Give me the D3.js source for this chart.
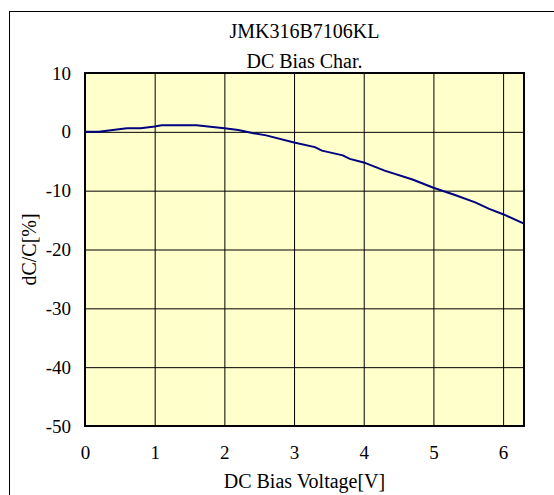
<!DOCTYPE html>
<html>
<head>
<meta charset="utf-8">
<script src="https://cdn.jsdelivr.net/npm/d3@7"></script>
<style>
  body { margin: 0; background: #fff; }
  text { font-family: "Liberation Serif", "Times New Roman", serif; fill: #000; }
</style>
</head>
<body>
<div id="chart"></div>
<script>
// DC bias curve
const voltage = [0, 0.2, 0.4, 0.6, 0.8, 1.0, 1.1, 1.6, 2.0, 2.2, 2.4, 2.6, 3.0, 3.3, 3.4, 3.7, 3.8, 4.0, 4.3, 4.7, 5.0, 5.3, 5.6, 5.8, 6.0, 6.3]
const dcdc = [0, 0, 0.3, 0.6, 0.6, 0.9, 1.1, 1.1, 0.6, 0.3, -0.2, -0.6, -1.8, -2.6, -3.2, -4.0, -4.6, -5.2, -6.6, -8.1, -9.5, -10.7, -12.0, -13.1, -14.0, -15.6]
const xTicks = [0, 1, 2, 3, 4, 5, 6]
const yTicks = [10, 0, -10, -20, -30, -40, -50]
const titleLines = ["JMK316B7106KL", "DC Bias Char."]

const width = 554
const height = 495
const plot = { left: 85, right: 524, top: 73, bottom: 426 }

const svg = d3.select("#chart")
  .append("svg")
  .attr("width", width)
  .attr("height", height)

// outer frame (runs off the right / bottom edge like the original)
svg.append("rect")
  .attr("x", 9.5).attr("y", 11.5)
  .attr("width", width + 20).attr("height", height + 20)
  .attr("fill", "#fff")
  .attr("stroke", "#000")
  .attr("stroke-width", 1)

const x = d3.scaleLinear()
  .domain([0, 6.3])
  .range([plot.left, plot.right])

const y = d3.scaleLinear()
  .domain([-50, 10])
  .range([plot.bottom, plot.top])

// plot background
svg.append("rect")
  .attr("x", plot.left).attr("y", plot.top)
  .attr("width", plot.right - plot.left)
  .attr("height", plot.bottom - plot.top)
  .attr("fill", "#ffffcc")

// grid lines
svg.append("g")
  .attr("transform", `translate(0,${plot.bottom})`)
  .call(d3.axisBottom(x).tickValues(xTicks.filter(d => d > 0)).tickSize(-(plot.bottom - plot.top)).tickFormat(""))
  .call(g => g.select(".domain").remove())
  .call(g => g.selectAll("line").attr("stroke", "#000").attr("stroke-width", 1))

svg.append("g")
  .attr("transform", `translate(${plot.left},0)`)
  .call(d3.axisLeft(y).tickValues(yTicks.filter(d => d < 10 && d > -50)).tickSize(-(plot.right - plot.left)).tickFormat(""))
  .call(g => g.select(".domain").remove())
  .call(g => g.selectAll("line").attr("stroke", "#000").attr("stroke-width", 1))

// plot border
svg.append("rect")
  .attr("x", plot.left).attr("y", plot.top)
  .attr("width", plot.right - plot.left)
  .attr("height", plot.bottom - plot.top)
  .attr("fill", "none")
  .attr("stroke", "#000")
  .attr("stroke-width", 2)

// tick labels (plain hyphen for negatives, like the original)
const xAxis = svg.append("g")
  .attr("transform", `translate(0,${plot.bottom})`)
  .call(d3.axisBottom(x).tickValues(xTicks).tickSize(0).tickPadding(20).tickFormat(d => String(d)))
xAxis.select(".domain").remove()
xAxis.selectAll("text").style("font-size", "19px").style("font-family", "Liberation Serif")

const yAxis = svg.append("g")
  .attr("transform", `translate(${plot.left},0)`)
  .call(d3.axisLeft(y).tickValues(yTicks).tickSize(0).tickPadding(14).tickFormat(d => String(d)))
yAxis.select(".domain").remove()
yAxis.selectAll("text").style("font-size", "19px").style("font-family", "Liberation Serif")

// curve
const line = d3.line()
  .x((d, i) => x(voltage[i]))
  .y(d => y(d))

svg.append("path")
  .datum(dcdc)
  .attr("d", line)
  .attr("fill", "none")
  .attr("stroke", "#000080")
  .attr("stroke-width", 2)

// titles
svg.selectAll(".title")
  .data(titleLines)
  .join("text")
    .attr("class", "title")
    .attr("x", (plot.left + plot.right) / 2)
    .attr("y", (d, i) => 38 + i * 30)
    .attr("text-anchor", "middle")
    .style("font-size", "20px")
    .text(d => d)

svg.append("text")
  .attr("x", (plot.left + plot.right) / 2)
  .attr("y", 488)
  .attr("text-anchor", "middle")
  .style("font-size", "20px")
  .text("DC Bias Voltage[V]")

svg.append("text")
  .attr("transform", `translate(36,${(plot.top + plot.bottom) / 2}) rotate(-90)`)
  .attr("text-anchor", "middle")
  .style("font-size", "20px")
  .text("dC/C[%]")
</script>
</body>
</html>
